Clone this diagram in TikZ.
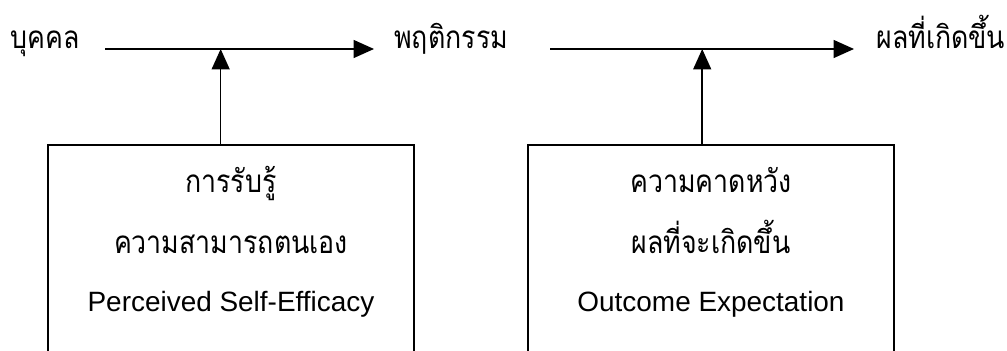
\documentclass[tikz,border=0pt]{standalone}
\usepackage{fontspec}
\setmainfont{Liberation Sans}
\newfontfamily\thaifont[Script=Thai,FakeStretch=0.85]{Loma}
\usetikzlibrary{arrows.meta}
\tikzset{
    flow/.style={line width=0.9pt,-{Triangle[length=0.41cm,width=0.36cm]}},
    thai/.style={font=\thaifont\fontsize{17.9}{20}\selectfont,inner sep=0pt,anchor=base},
    latin/.style={font=\fontsize{15.9}{18}\selectfont,inner sep=0pt,anchor=base},
    framebox/.style={draw,line width=0.9pt,minimum width=7.32cm,minimum height=5cm,anchor=north,inner sep=0pt}
}
\begin{document}
\begin{tikzpicture}
                \useasboundingbox (0,0) rectangle (20.14,7.02);
                \clip (0,0) rectangle (20.14,7.02);
                \node[thai,anchor=base east] (person) at (1.60,6.04) {บุคคล};
                \node[thai,anchor=base west] (behav) at (7.88,6.04) {พฤติกรรม};
                \node[thai,anchor=base west] (outcome) at (17.52,6.04) {ผลที่เกิดขึ้น};
                \draw[flow] ([xshift=0.5cm]person.base east) -- coordinate[pos=0.43] (m1) ([xshift=-0.4cm]behav.base west);
                \draw[flow] ([xshift=0.84cm]behav.base east) -- coordinate[pos=0.5] (m2) ([xshift=-0.44cm]outcome.base west);
                \node[framebox] (effbox) at (4.62,4.14) {};
                \node[framebox] (expbox) at (14.22,4.14) {};
                \node[thai] (eff1) at ([yshift=-0.98cm]effbox.north) {การรับรู้};
                \node[thai] (eff2) at ([yshift=-2.20cm]effbox.north) {ความสามารถตนเอง};
                \node[latin] (eff3) at ([yshift=-3.36cm]effbox.north) {Perceived Self-Efficacy};
                \node[thai] (exp1) at ([yshift=-0.98cm]expbox.north) {ความคาดหวัง};
                \node[thai] (exp2) at ([yshift=-2.20cm]expbox.north) {ผลที่จะเกิดขึ้น};
                \node[latin] (exp3) at ([yshift=-3.36cm]expbox.north) {Outcome Expectation};
                \draw[flow] (effbox.north -| m1) -- (m1);
                \draw[flow] (expbox.north -| m2) -- (m2);
\end{tikzpicture}
\end{document}
